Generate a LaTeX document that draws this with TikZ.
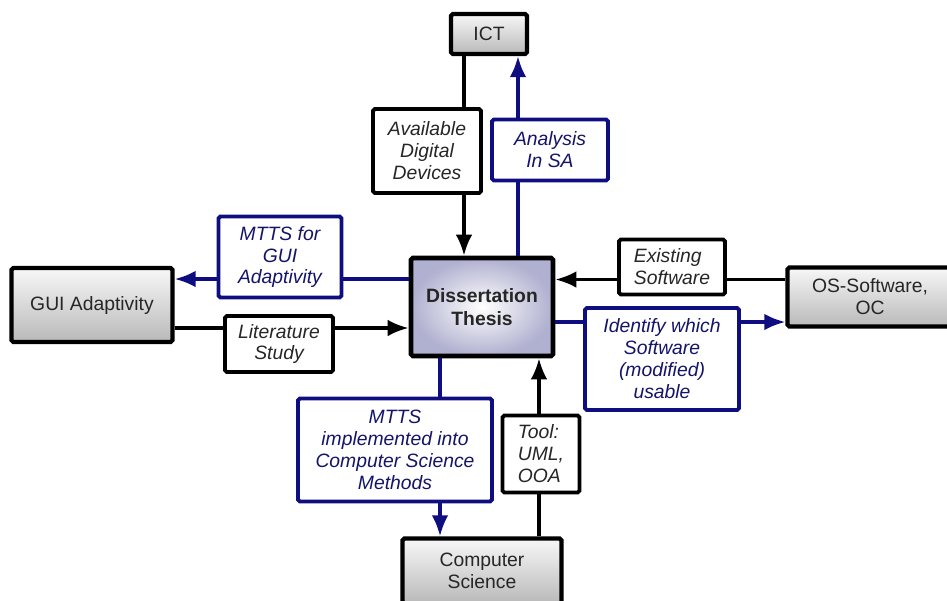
\documentclass[tikz,border=0pt]{standalone}
\usepackage{fontspec}
\setmainfont{Liberation Sans}
\usepackage{xcolor}
\usepackage{tikz}
\usetikzlibrary{arrows.meta,calc}
\definecolor{navyline}{RGB}{14,14,128}
\definecolor{navytext}{RGB}{20,20,105}
\definecolor{thesisrim}{RGB}{176,176,208}
\tikzset{areabox/.style={draw=black, line width=2.4pt, rectangle, rounded corners=1pt, top color=gray!6, bottom color=gray!55, text=black!85, font=\fontsize{11}{12.5}\selectfont, align=center, inner sep=2pt}}
\tikzset{thesisbox/.style={draw=black, line width=2.6pt, rectangle, rounded corners=1pt, inner color=white, outer color=thesisrim, text=black!85, font=\fontsize{11}{13}\selectfont\bfseries, align=center, minimum width=2.84cm, minimum height=1.96cm}}
\tikzset{flowbox/.style={draw=black, fill=white, line width=2.2pt, rectangle, rounded corners=1pt, text=black!85, font=\fontsize{11}{12.5}\selectfont\itshape, align=center, inner sep=2pt}}
\tikzset{goalbox/.style={flowbox, draw=navyline, text=navytext}}
\tikzset{line/.style={draw, line width=2pt, -{Latex[length=12pt,width=9.5pt]}}}
\tikzset{goalline/.style={line, draw=navyline}}

\begin{document}
\begin{tikzpicture}[x=0.02cm, y=-0.02cm]
		\useasboundingbox (0,0) rectangle (947,600);
		
		% areas round the thesis
		\node [thesisbox] (thesis) at (482,307) {Dissertation\\Thesis};
		\node [areabox, minimum width=1.52cm, minimum height=0.8cm] (ict) at (489,34) {ICT};
		\node [areabox, minimum width=3.22cm, minimum height=1.48cm] (gui) at (92,305) {GUI Adaptivity};
		\node [areabox, minimum width=3.3cm, minimum height=1.18cm] (os) at (870,297) {OS-Software,\\OC};
		\node [areabox, minimum width=3.18cm, minimum height=1.3cm] (cs) at (482,571) {Computer\\Science};
		
		% inputs (black) and results (blue)
		\path [line] ([xshift=-0.5cm]ict.south) -- ([xshift=-0.5cm]ict.south |- thesis.north);
		\path [goalline] ([xshift=0.72cm]thesis.north) -- ([xshift=0.72cm]thesis.north |- ict.south);
		\path [goalline] ([yshift=0.56cm]thesis.west) -- ([yshift=0.56cm]thesis.west -| gui.east);
		\path [line] ([yshift=-0.46cm]gui.east) -- ([yshift=-0.46cm]gui.east -| thesis.west);
		\path [line] ([yshift=0.35cm]os.west) -- ([yshift=0.35cm]os.west -| thesis.east);
		\path [goalline] ([yshift=-0.3cm]thesis.east) -- ([yshift=-0.3cm]thesis.east -| os.west);
		\path [goalline] ([xshift=-0.84cm]thesis.south) -- ([xshift=-0.84cm]thesis.south |- cs.north);
		\path [line] ([xshift=1.14cm]cs.north) -- ([xshift=1.14cm]cs.north |- thesis.south);
		
		% labels on the connectors
		\node [flowbox, minimum width=2.16cm, minimum height=1.68cm] (devices) at (427,151) {Available\\Digital\\Devices};
		\node [goalbox, minimum width=2.32cm, minimum height=1.22cm] (analysis) at (550,150) {Analysis\\In SA};
		\node [goalbox, minimum width=2.46cm, minimum height=1.62cm] (mttsgui) at (280,257) {MTTS for\\GUI\\Adaptivity};
		\node [flowbox, minimum width=2.16cm, minimum height=1.12cm] (litstudy) at (279,344) {Literature\\Study};
		\node [flowbox, minimum width=2.12cm, minimum height=1.1cm, align=left] (existing) at (672,267) {Existing\\Software};
		\node [goalbox, minimum width=3.08cm, minimum height=2.04cm] (identify) at (662,359) {Identify which\\Software\\(modified)\\usable};
		\node [goalbox, minimum width=3.88cm, minimum height=2.06cm] (mttscs) at (395,450) {MTTS\\implemented into\\Computer Science\\Methods};
		\node [flowbox, minimum width=1.54cm, minimum height=1.54cm, align=left] (tool) at (541,454) {Tool:\\UML,\\OOA};
		
\end{tikzpicture}
\end{document}
